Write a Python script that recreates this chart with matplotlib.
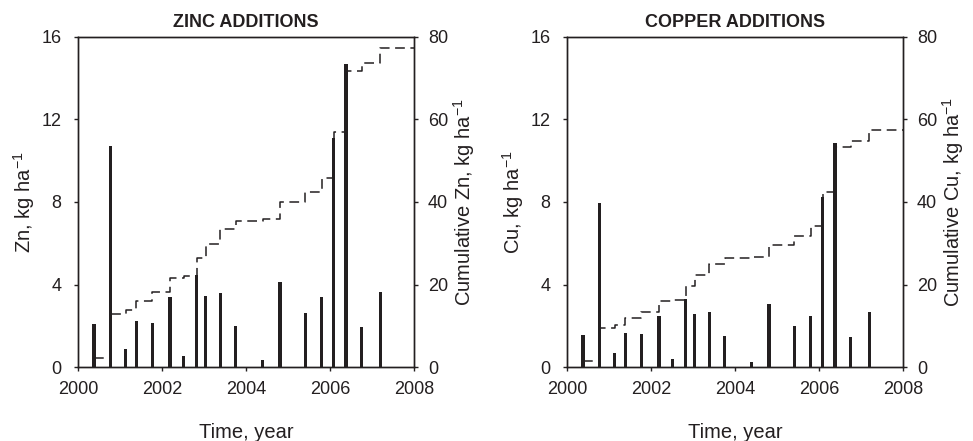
import numpy as np
import matplotlib
matplotlib.use("Agg")
import matplotlib.pyplot as plt

plt.rcParams['font.family'] = ['Liberation Sans', 'DejaVu Sans']
plt.rcParams['mathtext.fontset'] = 'custom'
plt.rcParams['mathtext.rm'] = 'Liberation Sans'
plt.rcParams['mathtext.it'] = 'Liberation Sans:italic'
plt.rcParams['lines.scale_dashes'] = False

# Application dates (decimal years), shared by both panels
times = [2000.38, 2000.77, 2001.14, 2001.39, 2001.77, 2002.19, 2002.52, 2002.83,
         2003.04, 2003.39, 2003.76, 2004.40, 2004.81, 2005.41, 2005.80, 2006.09,
         2006.38, 2006.75, 2007.20]

# Zinc additions, kg/ha
zn = [2.10, 10.73, 0.89, 2.23, 2.15, 3.37, 0.52, 4.45, 3.43, 3.61, 1.99, 0.33,
      4.10, 2.64, 3.37, 11.09, 14.69, 1.93, 3.64]

# Copper additions, kg/ha
cu = [1.57, 7.93, 0.68, 1.67, 1.60, 2.49, 0.41, 3.30, 2.56, 2.69, 1.49, 0.26,
      3.04, 1.98, 2.49, 8.22, 10.87, 1.44, 2.69]

titles = ["ZINC ADDITIONS", "COPPER ADDITIONS"]
elements = ["Zn", "Cu"]
xticks = [2000, 2002, 2004, 2006, 2008]
yticks_left = [0, 4, 8, 12, 16]
yticks_right = [0, 20, 40, 60, 80]

INK = '#231f20'
fig = plt.figure(figsize=(9.73, 4.41), dpi=100)
W, H = 973, 441
lefts = [78, 567]

for i, (vals, title, el) in enumerate(zip([zn, cu], titles, elements)):
    ax = fig.add_axes([lefts[i] / W, 1 - 367 / H, 336 / W, 330 / H])
    ax.bar(times, vals, width=0.075, color=INK, align='center', zorder=3)
    ax.set_xlim(2000, 2008)
    ax.set_ylim(0, 16)
    ax.set_xticks(xticks)
    ax.set_yticks(yticks_left)
    ax.tick_params(axis='both', direction='out', length=3, width=1,
                   labelsize=13, colors=INK)
    ax.tick_params(axis='x', pad=7)
    ax.tick_params(axis='y', pad=9)
    for s in ax.spines.values():
        s.set_linewidth(1.0)
        s.set_color(INK)
    ax.set_title(title, fontsize=13, fontweight='bold', color=INK, pad=7)
    ax.set_xlabel('Time, year', fontsize=14.5, color=INK, labelpad=18)
    ax.set_ylabel(el + ', kg ha$^{-1}$', fontsize=14.5, color=INK, labelpad=3)

    cum = np.cumsum(vals)
    ax2 = ax.twinx()
    ax2.step(list(times) + [2008], list(cum) + [cum[-1]], where='post',
             color=INK, lw=1.1, dashes=(7, 4), zorder=2)
    ax2.set_ylim(0, 80)
    ax2.set_yticks(yticks_right)
    ax2.tick_params(axis='y', direction='out', length=3, width=1,
                    labelsize=13, colors=INK, pad=7)
    for s in ax2.spines.values():
        s.set_linewidth(1.0)
        s.set_color(INK)
    ax2.set_ylabel('Cumulative ' + el + ', kg ha$^{-1}$', fontsize=14.5,
                   color=INK, labelpad=2)

fig.savefig('out.png', dpi=100)
